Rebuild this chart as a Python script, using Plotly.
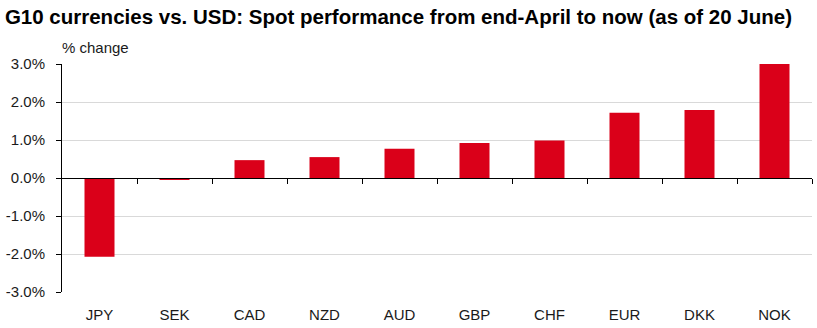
import plotly.graph_objects as go

categories = ["JPY", "SEK", "CAD", "NZD", "AUD", "GBP", "CHF", "EUR", "DKK", "NOK"]
values = [-2.07, -0.04, 0.47, 0.55, 0.77, 0.92, 0.99, 1.72, 1.79, 3.0]
y_ticks = [-3, -2, -1, 0, 1, 2, 3]
y_ticktext = ["-3.0%", "-2.0%", "-1.0%", "0.0%", "1.0%", "2.0%", "3.0%"]
title_text = "G10 currencies vs. USD: Spot performance from end-April to now (as of 20 June)"
unit_text = "% change"

FONT = "Arial, 'Liberation Sans', sans-serif"
RED = "#da0019"

x_idx = list(range(len(categories)))
boundaries = [i + 0.5 for i in x_idx]

fig = go.Figure()
fig.add_trace(go.Bar(
    x=x_idx, y=values, marker=dict(color=RED, line=dict(width=0)),
    showlegend=False, hoverinfo="skip",
))
fig.add_trace(go.Scatter(
    x=x_idx, y=values, xaxis="x2", mode="markers",
    marker=dict(opacity=0), showlegend=False, hoverinfo="skip",
))

fig.update_layout(
    width=817, height=328,
    margin=dict(l=62, r=5, t=64, b=36),
    paper_bgcolor="white", plot_bgcolor="white",
    bargap=0.6,
    font=dict(family=FONT, size=15, color="#1a1a1a"),
    title=dict(
        text="<b>" + title_text + "</b>",
        x=0.006, xanchor="left", xref="container",
        y=1 - 17 / 328, yanchor="middle", yref="container",
        font=dict(family=FONT, size=20.5, color="black"),
    ),
    xaxis=dict(
        range=[-0.5, len(categories) - 0.5],
        tickvals=x_idx, ticktext=categories,
        showline=False, showgrid=False, zeroline=False,
        ticks="", ticklabelstandoff=12,
        tickfont=dict(size=15, color="#1a1a1a"),
    ),
    xaxis2=dict(
        range=[-0.5, len(categories) - 0.5],
        overlaying="x", anchor="free", position=0.5,
        showline=True, linecolor="black", linewidth=1.3,
        ticks="outside", ticklen=5, tickcolor="black", tickwidth=1,
        tickvals=boundaries, showticklabels=False,
        showgrid=False, zeroline=False,
    ),
    yaxis=dict(
        range=[-3, 3], tickvals=y_ticks, ticktext=y_ticktext,
        showline=True, linecolor="black", linewidth=1,
        ticks="outside", ticklen=5, tickcolor="black",
        showgrid=True, gridcolor="#d9d9d9", gridwidth=1,
        zeroline=False, ticklabelstandoff=8,
        tickfont=dict(size=15, color="#1a1a1a"),
    ),
    annotations=[dict(
        text=unit_text, xref="paper", yref="paper",
        x=-0.003, xanchor="left", y=1 + 17 / 228, yanchor="middle",
        showarrow=False, font=dict(family=FONT, size=15, color="#1a1a1a"),
    )],
)

fig.write_html("out.html")
